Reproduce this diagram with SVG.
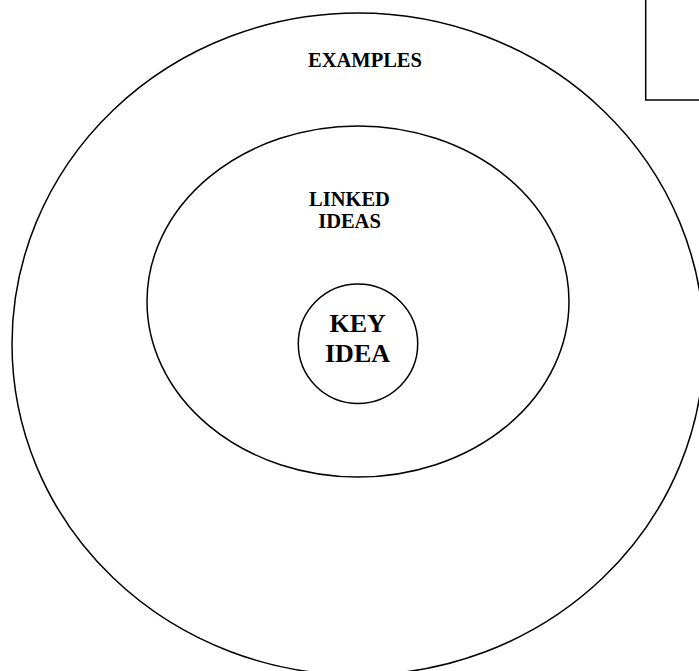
<svg xmlns="http://www.w3.org/2000/svg" width="699" height="671" viewBox="0 0 699 671">
<style>
.sh{fill:none;stroke:#000;stroke-width:1.5}
.t{font-family:"Liberation Serif","Times New Roman",serif;font-weight:bold;fill:#000;text-anchor:middle}
</style>
<rect width="699" height="671" fill="#fff"/>
<g id="outer"><ellipse class="sh" cx="358" cy="344" rx="346" ry="331"/><text class="t" x="365" y="66.5" font-size="20.5">EXAMPLES</text></g>
<g id="middle"><ellipse class="sh" cx="358" cy="301.5" rx="211" ry="175.5"/><text class="t" x="349.5" y="206" font-size="20.5">LINKED</text><text class="t" x="349.5" y="227.5" font-size="20.5">IDEAS</text></g>
<g id="inner"><circle class="sh" cx="358" cy="343.7" r="59.7"/><text class="t" x="357.7" y="331.7" font-size="26">KEY</text><text class="t" x="357.5" y="361.7" font-size="26">IDEA</text></g>
<g id="box"><rect class="sh" x="645.7" y="-5" width="60" height="105"/></g>
<g id="connectors"/>
</svg>
